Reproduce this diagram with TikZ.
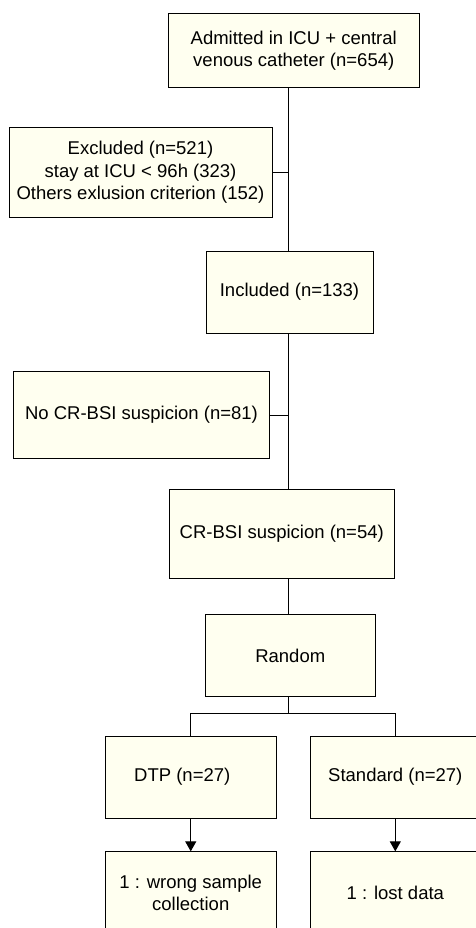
\documentclass[tikz,border=0pt]{standalone}
\usepackage{fontspec}
\setmainfont{Liberation Sans}
\usetikzlibrary{arrows.meta}
\definecolor{cream}{RGB}{255,255,240}
\begin{document}
\begin{tikzpicture}[x=1pt,y=-1pt,
	box/.style={draw,fill=cream,line width=1pt,align=center,inner sep=0pt,
		font=\fontsize{18.5}{22.5}\selectfont},
	link/.style={line width=1pt},
	arr/.style={link,-{Triangle[length=10pt,width=11pt]}}]
	\useasboundingbox (0,0) rectangle (476,928);
	\node[box,minimum width=250.5pt,minimum height=74.5pt](admit) at (293.75,50.75) {Admitted in ICU + central\\venous catheter (n=654)};
	\node[box,minimum width=263pt,minimum height=89.5pt](excl) at (140.5,172.25) {Excluded (n=521)\\stay at ICU < 96h (323)\\Others exlusion criterion (152)};
	\node[box,minimum width=167pt,minimum height=82pt](incl) at (289.5,292) {Included (n=133)};
	\node[box,minimum width=256pt,minimum height=86.5pt](nocr) at (141.5,415) {No CR-BSI suspicion (n=81)};
	\node[box,minimum width=224.5pt,minimum height=89pt](crbsi) at (281.75,533.5) {CR-BSI suspicion (n=54)};
	\node[box,minimum width=170.5pt,minimum height=81.5pt](random) at (290.25,655.5) {Random};
	\node[box,minimum width=170.5pt,minimum height=82.3pt](dtp) at (190.75,777.2) {DTP (n=27)\hspace*{17pt}};
	\node[box,minimum width=170.5pt,minimum height=82.3pt](std) at (395.3,777.2) {Standard (n=27)};
	\node[box,minimum width=170.5pt,minimum height=82.3pt](dtplost) at (190.75,893) {1 : wrong sample\\collection};
	\node[box,minimum width=170.5pt,minimum height=82.3pt](stdlost) at (395.3,893) {1 : lost data};
	% main line
	\coordinate (spine) at (288.5,0);
	\coordinate (fork) at (288.5,713.3);
	\draw[link] (admit.south -| spine) -- (incl.north -| spine);
	\draw[link] (excl.east) -- (excl.east -| spine);
	\draw[link] (incl.south -| spine) -- (crbsi.north -| spine);
	\draw[link] (nocr.east) -- (nocr.east -| spine);
	\draw[link] (crbsi.south -| spine) -- (random.north -| spine);
	\draw[link] (random.south -| fork) -- (fork);
	\draw[link] (dtp.north) |- (fork) -| (std.north);
	\draw[arr] (dtp) -- (dtplost);
	\draw[arr] (std) -- (stdlost);
\end{tikzpicture}
\end{document}
